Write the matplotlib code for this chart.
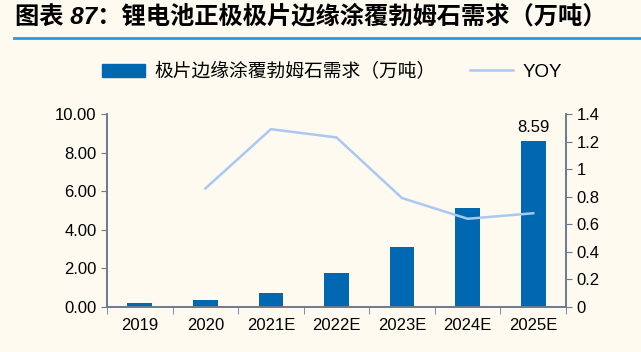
import matplotlib.pyplot as plt
from matplotlib.lines import Line2D

plt.rcParams['font.family'] = ['Liberation Sans', 'Noto Sans CJK SC', 'DejaVu Sans']

years = ['2019', '2020', '2021E', '2022E', '2023E', '2024E', '2025E']
demand = [0.19, 0.36, 0.74, 1.74, 3.12, 5.13, 8.59]
yoy_years = ['2020', '2021E', '2022E', '2023E', '2024E', '2025E']
yoy = [0.86, 1.29, 1.23, 0.79, 0.64, 0.68]

bg = '#FFFAF0'
bar_color = '#0068B0'
line_color = '#A9C8F2'
spine_color = '#6B7A90'

fig = plt.figure(figsize=(6.41, 3.52), dpi=100, facecolor=bg)
ax = fig.add_axes([107 / 641, 1 - 307 / 352, 459 / 641, 193 / 352])
ax.set_facecolor(bg)
x = list(range(len(years)))
ax.bar(x, demand, width=0.375, color=bar_color, zorder=2)
ax.set_xlim(-0.5, 6.5)
ax.set_ylim(0, 10)
ax.set_yticks([0, 2, 4, 6, 8, 10])
ax.set_yticklabels([f'{v:.2f}' for v in [0, 2, 4, 6, 8, 10]])
ax.set_xticks(x)
ax.set_xticklabels(years)
ax.set_xticks([i - 0.5 for i in range(8)], minor=True)
ax.tick_params(axis='x', which='major', length=0, pad=8, labelsize=12)
ax.tick_params(axis='x', which='minor', length=5, color=spine_color)
ax.tick_params(axis='y', length=4, color=spine_color, labelsize=12)
ax.text(6, demand[-1] + 0.3, f'{demand[-1]:.2f}', ha='center', va='bottom', fontsize=12)

ax2 = ax.twinx()
ax2.plot([years.index(y) for y in yoy_years], yoy, color=line_color, lw=1.8)
ax2.set_ylim(0, 1.4)
ax2.set_yticks([0, 0.2, 0.4, 0.6, 0.8, 1, 1.2, 1.4])
ax2.set_yticklabels(['0', '0.2', '0.4', '0.6', '0.8', '1', '1.2', '1.4'])
ax2.tick_params(axis='y', length=4, color=spine_color, labelsize=12)

for a in (ax, ax2):
    for s in ['top']:
        a.spines[s].set_visible(False)
    for s in ['left', 'right', 'bottom']:
        a.spines[s].set_color(spine_color)
        a.spines[s].set_linewidth(1.2)

fig.text(15 / 641, 1 - 17 / 352, '图表 87：锂电池正极极片边缘涂覆勃姆石需求（万吨）',
         fontsize=17.5, fontweight='bold', style='italic', va='center',
         family=['Liberation Sans', 'Noto Sans CJK SC'])
fig.add_artist(Line2D([14 / 641, 1], [1 - 38 / 352] * 2, color='#1E9FE8', lw=2))

handles = [plt.Rectangle((0, 0), 1, 1, color=bar_color),
           Line2D([0], [0], color=line_color, lw=1.8)]
fig.legend(handles, ['极片边缘涂覆勃姆石需求（万吨）', 'YOY'], ncol=2, frameon=False,
           loc='center', bbox_to_anchor=(332 / 641, 1 - 72 / 352), fontsize=13.5,
           handlelength=2.3, columnspacing=1.8, handletextpad=0.5)

fig.savefig('out.png', dpi=100, facecolor=bg)
